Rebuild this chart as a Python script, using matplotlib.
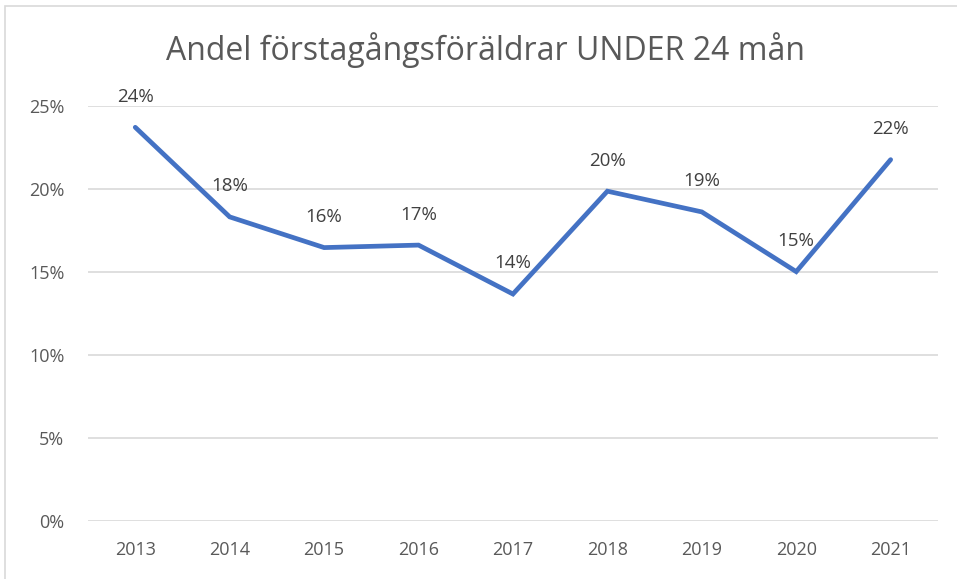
import matplotlib
matplotlib.use("Agg")
import matplotlib.pyplot as plt
from matplotlib.patches import Rectangle

# data
years = ['2013', '2014', '2015', '2016', '2017', '2018', '2019', '2020', '2021']
andel = [23.7, 18.3, 16.45, 16.6, 13.65, 19.85, 18.6, 15.0, 21.75]
y_ticks = [0, 5, 10, 15, 20, 25]

plt.rcParams['font.family'] = ['Open Sans', 'DejaVu Sans']

fig = plt.figure(figsize=(9.57, 5.79), dpi=100)
ax = fig.add_axes([0.092, 0.101, 0.888, 0.7164])

x = list(range(len(years)))
ax.plot(x, andel, color='#4472C4', linewidth=3.4, solid_capstyle='round',
        solid_joinstyle='miter', zorder=3)

for xi, v in zip(x, andel):
    ax.annotate(f'{round(v):.0f}%', (xi, v), xytext=(0, 22), textcoords='offset points',
                ha='center', va='center', fontsize=13.5, color='#404040', zorder=4)

ax.set_xlim(-0.5, len(years) - 0.5)
ax.set_ylim(0, 25)
ax.set_xticks(x)
ax.set_xticklabels(years)
ax.set_yticks(y_ticks)
ax.set_yticklabels([f'{t}%' for t in y_ticks])
ax.tick_params(axis='both', length=0, labelsize=13, labelcolor='#595959')
ax.tick_params(axis='x', pad=15)
ax.tick_params(axis='y', pad=17)
ax.grid(axis='y', color='#D9D9D9', linewidth=1.2)
ax.set_axisbelow(True)
for s in ax.spines.values():
    s.set_visible(False)

fig.text(0.507, 0.914, 'Andel förstagångsföräldrar UNDER 24 mån', ha='center', va='center',
         fontsize=23, color='#595959')

# chart area frame
fig.patches.append(Rectangle((0.005, -0.01), 1.2, 1.0, transform=fig.transFigure,
                             fill=False, edgecolor='#D9D9D9', linewidth=1.2))

fig.savefig('out.png', dpi=100)
